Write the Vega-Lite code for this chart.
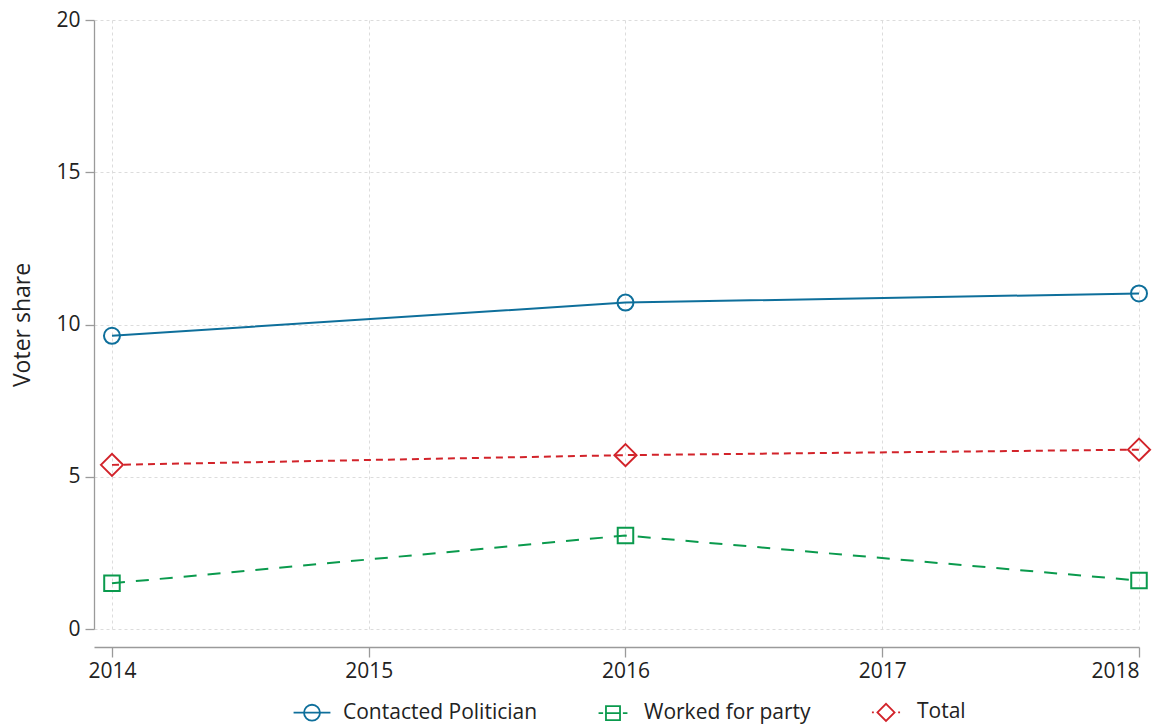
{
  "$schema": "https://vega.github.io/schema/vega-lite/v6.json",
  "width": 1045,
  "height": 609,
  "autosize": {"type": "none"},
  "padding": {"left": 94, "top": 20, "right": 30, "bottom": 96},
  "background": "white",
  "config": {
    "font": "Open Sans",
    "view": {"stroke": null},
    "axis": {
      "labelFontSize": 21,
      "labelColor": "#222222",
      "labelFont": "Open Sans",
      "domainColor": "#9a9a9a",
      "domainWidth": 1.3,
      "tickColor": "#9a9a9a",
      "tickWidth": 1.3,
      "gridColor": "#dcdcdc",
      "gridDash": [3, 3],
      "gridWidth": 1,
      "titleFont": "Open Sans",
      "titleFontSize": 23,
      "titleFontWeight": "normal",
      "titleColor": "#222222"
    }
  },
  "data": {
    "values": [
      {"series": "Contacted Politician", "year": 2014, "value": 9.63},
      {"series": "Contacted Politician", "year": 2016, "value": 10.72},
      {"series": "Contacted Politician", "year": 2018, "value": 11.02},
      {"series": "Worked for party", "year": 2014, "value": 1.5},
      {"series": "Worked for party", "year": 2016, "value": 3.07},
      {"series": "Worked for party", "year": 2018, "value": 1.59},
      {"series": "Total", "year": 2014, "value": 5.39},
      {"series": "Total", "year": 2016, "value": 5.71},
      {"series": "Total", "year": 2018, "value": 5.89}
    ]
  },
  "encoding": {
    "x": {
      "field": "year",
      "type": "quantitative",
      "scale": {"domain": [2013.93, 2018], "nice": false, "zero": false},
      "axis": {"values": [2014, 2015, 2016, 2017, 2018], "format": "d", "title": null, "offset": 18, "tickSize": 10, "labelPadding": 3, "grid": true}
    },
    "y": {
      "field": "value",
      "type": "quantitative",
      "scale": {"domain": [0, 20], "nice": false},
      "axis": {"values": [0, 5, 10, 15, 20], "title": "Voter share", "titlePadding": 21, "tickSize": 9, "labelPadding": 5, "grid": true}
    },
    "color": {
      "field": "series",
      "type": "nominal",
      "scale": {"domain": ["Contacted Politician", "Worked for party", "Total"], "range": ["#0e6f9b", "#0a9a4d", "#d2232a"]},
      "legend": {
        "title": null,
        "orient": "none",
        "legendX": 198,
        "legendY": 672,
        "direction": "horizontal",
        "symbolSize": 1444,
        "symbolStrokeWidth": 1.8,
        "labelFontSize": 21,
        "labelFont": "Open Sans",
        "labelColor": "#222222",
        "labelOffset": 11,
        "labelLimit": 400,
        "columnPadding": 55
      }
    }
  },
  "layer": [
    {
      "mark": {"type": "point", "filled": false, "strokeWidth": 2, "size": 256, "opacity": 0},
      "encoding": {
        "shape": {
          "field": "series",
          "type": "nominal",
          "scale": {"domain": ["Contacted Politician", "Worked for party", "Total"], "range": ["M-0.97,0L0.97,0M-0.42,0A0.42,0.42 0 1,0 0.42,0A0.42,0.42 0 1,0 -0.42,0", "M-0.76,0L-0.52,0M-0.37,-0.37L0.37,-0.37L0.37,0.37L-0.37,0.37ZM-0.37,0L0.37,0M0.52,0L0.76,0", "M-0.74,0L-0.64,0M-0.45,0L0,-0.45L0.45,0L0,0.45ZM0.64,0L0.74,0"]}
        }
      }
    },
    {
      "transform": [{"filter": "datum.series == 'Contacted Politician'"}],
      "mark": {"type": "line", "strokeWidth": 2},
      "encoding": {}
    },
    {
      "transform": [{"filter": "datum.series == 'Worked for party'"}],
      "mark": {"type": "line", "strokeWidth": 2, "strokeDash": [13, 11]},
      "encoding": {}
    },
    {
      "transform": [{"filter": "datum.series == 'Total'"}],
      "mark": {"type": "line", "strokeWidth": 2, "strokeDash": [7, 5]},
      "encoding": {}
    },
    {
      "transform": [{"filter": "datum.series == 'Contacted Politician'"}],
      "mark": {"type": "point", "filled": false, "strokeWidth": 2, "size": 256, "opacity": 1, "shape": "circle"},
      "encoding": {}
    },
    {
      "transform": [{"filter": "datum.series == 'Worked for party'"}],
      "mark": {"type": "point", "filled": false, "strokeWidth": 2, "size": 256, "opacity": 1, "shape": "M-0.97,-0.97L0.97,-0.97L0.97,0.97L-0.97,0.97Z"},
      "encoding": {}
    },
    {
      "transform": [{"filter": "datum.series == 'Total'"}],
      "mark": {"type": "point", "filled": false, "strokeWidth": 2, "size": 256, "opacity": 1, "shape": "M-1.38,0L0,-1.38L1.38,0L0,1.38Z"},
      "encoding": {}
    }
  ]
}
